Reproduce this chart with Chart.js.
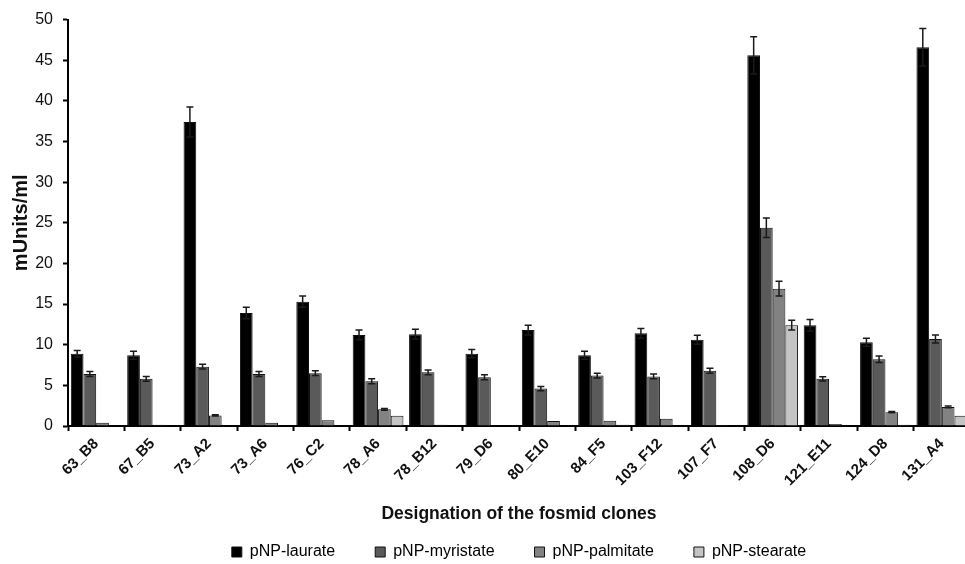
<!DOCTYPE html>
<html>
<head>
<meta charset="utf-8">
<script src="https://cdn.jsdelivr.net/npm/chart.js@4"></script>
<style>
html,body{margin:0;padding:0;background:#fff;overflow:hidden;}
#wrap{width:970px;height:564px;position:relative;}
</style>
</head>
<body>
<div id="wrap"><canvas id="c"></canvas></div>
<script>
const categories = ['63_B8','67_B5','73_A2','73_A6','76_C2','78_A6','78_B12','79_D6','80_E10','84_F5','103_F12','107_F7','108_D6','121_E11','124_D8','131_A4'];
const laurate   = [8.9, 8.7, 37.4, 13.9, 15.3, 11.2, 11.3, 8.9, 11.8, 8.7, 11.4, 10.6, 45.6, 12.4, 10.3, 46.6];
const myristate = [6.4, 5.8, 7.3, 6.4, 6.5, 5.5, 6.6, 6.0, 4.6, 6.2, 6.1, 6.8, 24.4, 5.8, 8.2, 10.7];
const palmitate = [0.4, 0.15, 1.3, 0.4, 0.7, 2.05, 0.15, 0, 0.6, 0.65, 0.9, 0.1, 16.9, 0.25, 1.7, 2.35];
const stearate  = [0.05, 0.05, 0, 0, 0, 1.25, 0, 0, 0, 0.15, 0, 0, 12.4, 0, 0.15, 1.25];
const laurateErr   = [0.4, 0.5, 1.85, 0.7, 0.7, 0.6, 0.6, 0.5, 0.6, 0.5, 0.6, 0.55, 2.3, 0.7, 0.5, 2.3];
const myristateErr = [0.3, 0.3, 0.3, 0.3, 0.3, 0.3, 0.3, 0.3, 0.25, 0.3, 0.3, 0.3, 1.2, 0.25, 0.4, 0.5];
const palmitateErr = [0, 0, 0.08, 0, 0, 0.1, 0, 0, 0, 0, 0, 0, 0.9, 0, 0.08, 0.1];
const stearateErr  = [0, 0, 0, 0, 0, 0, 0, 0, 0, 0, 0, 0, 0.6, 0, 0, 0];
const seriesNames = ['pNP-laurate','pNP-myristate','pNP-palmitate','pNP-stearate'];
const yTicks = [0,5,10,15,20,25,30,35,40,45,50];

const FONT = "'Liberation Sans', Arial, sans-serif";
const colors = ['#000000','#5a5a5a','#828282','#c4c4c4'];
const values = [laurate, myristate, palmitate, stearate];
const errs = [laurateErr, myristateErr, palmitateErr, stearateErr];

const errorBars = {
  id: 'errorBars',
  afterDatasetsDraw(chart) {
    const ctx = chart.ctx;
    const y = chart.scales.y;
    ctx.save();
    ctx.strokeStyle = '#1a1a1a';
    ctx.lineWidth = 1.5;
    chart.data.datasets.forEach((ds, di) => {
      const meta = chart.getDatasetMeta(di);
      const e = errs[di];
      meta.data.forEach((bar, i) => {
        if (!e[i]) return;
        const v = ds.data[i];
        const x = bar.x;
        const yt = y.getPixelForValue(v + e[i]);
        const yb = y.getPixelForValue(Math.max(0, v - e[i]));
        const cap = 3.5;
        ctx.beginPath();
        ctx.moveTo(x, yt); ctx.lineTo(x, yb);
        ctx.moveTo(x - cap, yt); ctx.lineTo(x + cap, yt);
        ctx.moveTo(x - cap, yb); ctx.lineTo(x + cap, yb);
        ctx.stroke();
      });
    });
    ctx.restore();
  }
};

new Chart(document.getElementById('c'), {
  type: 'bar',
  data: {
    labels: categories,
    datasets: values.map((v, i) => ({
      label: seriesNames[i],
      data: v,
      backgroundColor: colors[i],
      borderColor: '#111',
      borderWidth: 1,
      barPercentage: 1.0,
      categoryPercentage: 0.9
    }))
  },
  options: {
    responsive: true,
    maintainAspectRatio: false,
    animation: false,
    events: [],
    layout: { padding: { top: 17, bottom: -6, left: 0, right: 0 } },
    plugins: {
      tooltip: { enabled: false },
      legend: {
        position: 'bottom',
        fullSize: false,
        labels: {
          boxWidth: 10,
          boxHeight: 10,
          padding: 40,
          color: '#111',
          font: { family: FONT, size: 16 },
          generateLabels(chart) {
            return chart.data.datasets.map((ds, i) => ({
              text: ds.label,
              fillStyle: colors[i],
              strokeStyle: '#111',
              lineWidth: 1,
              datasetIndex: i
            }));
          }
        }
      }
    },
    scales: {
      x: {
        grid: { display: true, drawOnChartArea: false, offset: true, color: '#000', tickLength: 5, tickWidth: 2 },
        border: { display: true, color: '#000', width: 2 },
        ticks: {
          color: '#111',
          maxRotation: 45, minRotation: 45,
          padding: 4,
          autoSkip: false,
          font: { family: FONT, size: 15, weight: 'bold' }
        },
        title: {
          display: true,
          text: 'Designation of the fosmid clones',
          color: '#111',
          font: { family: FONT, size: 17.5, weight: 'bold' },
          padding: { top: 0, bottom: -20.5 }
        },
        afterFit(s) { s.height = 78; }
      },
      y: {
        min: 0, max: 50,
        afterBuildTicks(s) { s.ticks = yTicks.map(v => ({ value: v })); },
        grid: { display: true, drawOnChartArea: false, color: '#000', tickLength: 5, tickWidth: 2 },
        border: { display: true, color: '#000', width: 2 },
        ticks: {
          color: '#111',
          padding: 10,
          font: { family: FONT, size: 16 }
        },
        title: {
          display: true,
          text: 'mUnits/ml',
          color: '#111',
          font: { family: FONT, size: 20, weight: 'bold' },
          padding: { top: 9, bottom: 4 }
        },
        afterFit(s) { s.width = 68; }
      }
    }
  },
  plugins: [errorBars]
});
</script>
</body>
</html>
